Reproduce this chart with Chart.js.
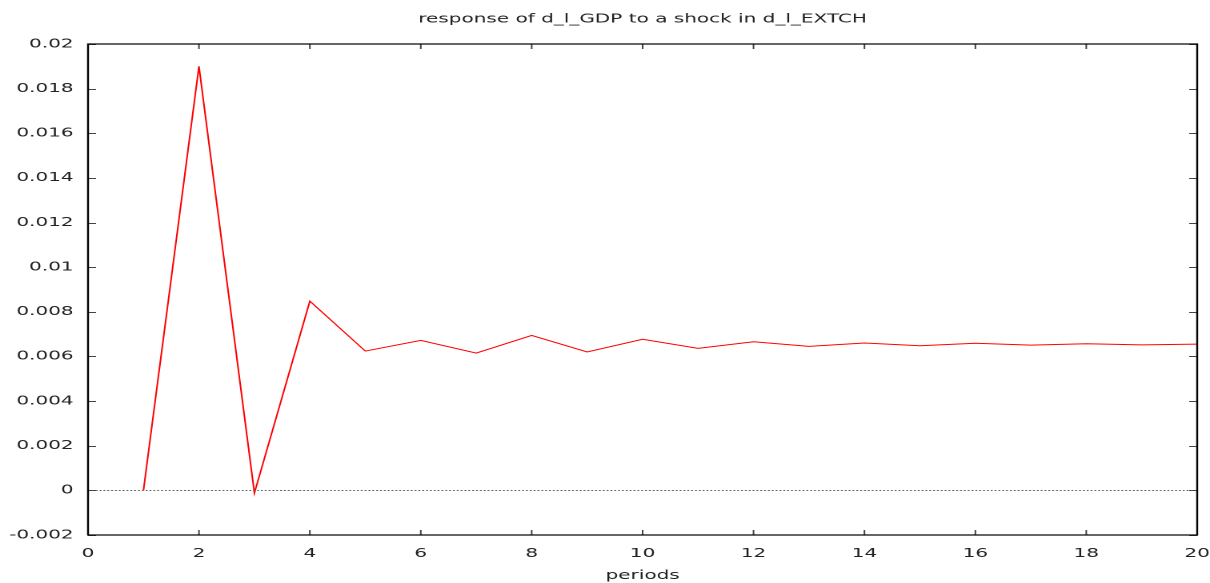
<!DOCTYPE html>
<html>
<head>
<meta charset="utf-8">
<script src="https://cdn.jsdelivr.net/npm/chart.js@4.4.1/dist/chart.umd.min.js"></script>
<style>
html, body { margin: 0; padding: 0; background: #fff; overflow: hidden; }
/* the reference is stretched sideways, so the chart is drawn narrow and scaled */
#wrap { width: 756px; height: 583px; transform: scaleX(1.6005); transform-origin: 0 0; }
</style>
</head>
<body>
<div id="wrap"><canvas id="Graf"></canvas></div>
<script>
var titel = "response of d_l_GDP to a shock in d_l_EXTCH";
var xNavn = "periods";
var perioder = [1, 2, 3, 4, 5, 6, 7, 8, 9, 10, 11, 12, 13, 14, 15, 16, 17, 18, 19, 20];
var respons = [0, 0.0190, -0.00012, 0.00848, 0.00624, 0.00672, 0.00615, 0.00694, 0.00620, 0.00677,
               0.00636, 0.00666, 0.00645, 0.00660, 0.00648, 0.00659, 0.00651, 0.00657, 0.00652, 0.00655];
var xTicks = [0, 2, 4, 6, 8, 10, 12, 14, 16, 18, 20];
var yTicks = [-0.002, 0, 0.002, 0.004, 0.006, 0.008, 0.01, 0.012, 0.014, 0.016, 0.018, 0.02];

var skrift = { family: "'DejaVu Sans', sans-serif", size: 12.5 };
var tekstFarve = "#222";

// frame, inward ticks on all four sides and the dotted zero line
var ramme = {
    id: "ramme",
    afterDatasetsDraw: function (chart) {
        var ctx = chart.ctx;
        var a = chart.chartArea;
        var xs = chart.scales.x;
        var ys = chart.scales.y;
        ctx.save();

        var y0 = Math.round(ys.getPixelForValue(0)) + 0.5;
        ctx.strokeStyle = "#666";
        ctx.lineWidth = 1;
        ctx.setLineDash([1.2, 1.2]);
        ctx.beginPath();
        ctx.moveTo(a.left, y0);
        ctx.lineTo(a.right, y0);
        ctx.stroke();
        ctx.setLineDash([]);

        ctx.strokeStyle = "#444";
        ctx.beginPath();
        xs.ticks.forEach(function (t) {
            var px = xs.getPixelForValue(t.value);
            ctx.moveTo(px, a.bottom);
            ctx.lineTo(px, a.bottom - 5);
            ctx.moveTo(px, a.top);
            ctx.lineTo(px, a.top + 5);
        });
        ys.ticks.forEach(function (t) {
            var py = Math.round(ys.getPixelForValue(t.value)) + 0.5;
            ctx.moveTo(a.left, py);
            ctx.lineTo(a.left + 5, py);
            ctx.moveTo(a.right, py);
            ctx.lineTo(a.right - 5, py);
        });
        ctx.stroke();

        ctx.strokeStyle = "#000";
        ctx.lineWidth = 1.2;
        ctx.strokeRect(a.left, a.top, a.right - a.left, a.bottom - a.top);
        ctx.restore();
    }
};

var graf = new Chart("Graf", {
    type: "line",
    data: {
        datasets: [{
            data: perioder.map(function (p, i) { return { x: p, y: respons[i] }; }),
            borderColor: "#ff0000",
            borderWidth: 1,
            pointRadius: 0,
            pointHoverRadius: 0,
            fill: false,
            tension: 0
        }]
    },
    options: {
        animation: false,
        maintainAspectRatio: false,
        devicePixelRatio: 2,
        layout: { padding: { left: 0, right: 8, top: 0, bottom: 0 } },
        plugins: {
            legend: { display: false },
            tooltip: { enabled: false },
            title: { display: false }
        },
        scales: {
            x: {
                type: "linear",
                min: 0,
                max: 20,
                afterBuildTicks: function (s) { s.ticks = xTicks.map(function (v) { return { value: v }; }); },
                afterFit: function (s) { s.height = 48; s.paddingLeft = 0; s.paddingRight = 0; },
                grid: { display: false, drawTicks: false },
                border: { display: false },
                ticks: { color: tekstFarve, font: skrift, padding: 11, maxRotation: 0, autoSkip: false },
                title: { display: true, text: xNavn, color: tekstFarve, font: skrift, padding: { top: 0, bottom: 0 } }
            },
            // top axis only carries the title, so it is centred over the plot like the reference
            top: {
                type: "linear",
                position: "top",
                min: 0,
                max: 20,
                afterFit: function (s) { s.height = 44; s.paddingLeft = 0; s.paddingRight = 0; },
                grid: { display: false, drawTicks: false },
                border: { display: false },
                ticks: { display: false },
                title: { display: true, text: titel, color: tekstFarve, font: skrift, padding: { top: 11.5, bottom: 0 } }
            },
            y: {
                min: -0.002,
                max: 0.02,
                afterBuildTicks: function (s) { s.ticks = yTicks.map(function (v) { return { value: v }; }); },
                afterFit: function (s) { s.width = 55; s.paddingTop = 0; s.paddingBottom = 0; },
                grid: { display: false, drawTicks: false },
                border: { display: false },
                ticks: {
                    color: tekstFarve,
                    font: skrift,
                    padding: 9,
                    autoSkip: false,
                    callback: function (v) { return String(+v.toFixed(3)); }
                }
            }
        }
    },
    plugins: [ramme]
});
</script>
</body>
</html>
